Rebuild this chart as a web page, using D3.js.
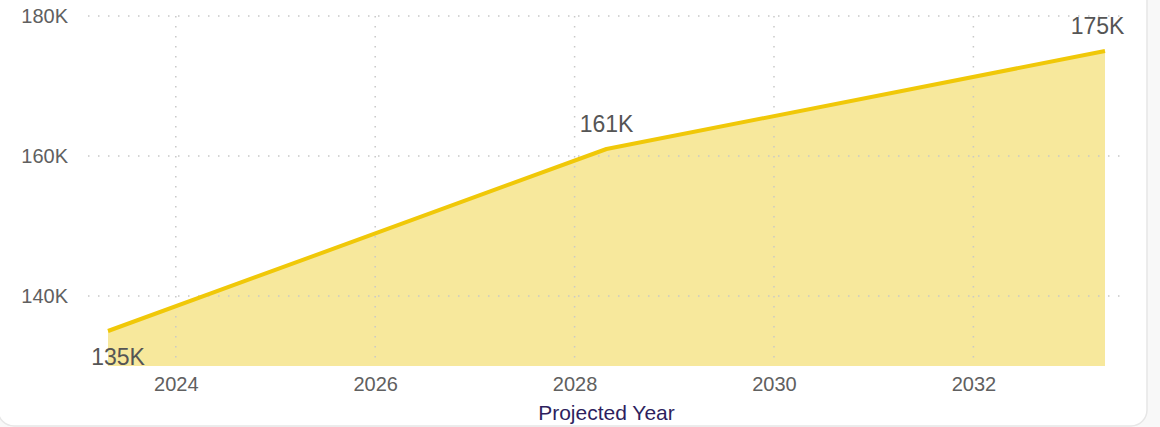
<!DOCTYPE html>
<html>
<head>
<meta charset="utf-8">
<script src="https://cdn.jsdelivr.net/npm/d3@7"></script>
<style>
  html, body { margin: 0; padding: 0; background: #f8f8f8; }
  svg { display: block; font-family: "Liberation Sans", Arial, sans-serif; }
</style>
</head>
<body>
<svg id="chart" width="1160" height="427"></svg>
<script>
// Data
const years = [2023.32, 2028.32, 2033.32];
const population = [135000, 161000, 175000];
const dataLabels = ["135K", "161K", "175K"];
const xTicks = [2024, 2026, 2028, 2030, 2032];
const yTicks = [140000, 160000, 180000];
const yTickLabels = ["140K", "160K", "180K"];
const xAxisTitle = "Projected Year";

const data = years.map((y, i) => ({ year: y, value: population[i], label: dataLabels[i] }));

const svg = d3.select("#chart");
const W = 1160, H = 427;

// card background
svg.append("rect")
  .attr("x", -2).attr("y", -30).attr("width", 1149).attr("height", 456)
  .attr("rx", 16).attr("ry", 16)
  .attr("fill", "#ffffff").attr("stroke", "#e6e6e6").attr("stroke-width", 1.5);

const x = d3.scaleLinear().domain([years[0], years[years.length - 1]]).range([108, 1105]);
const y = d3.scaleLinear().domain([130000, 180000]).range([366, 16]);

const gridLeft = 88, gridRight = 1120;

// horizontal grid
const g = svg.append("g");
g.selectAll(".hgrid").data(yTicks).enter().append("line")
  .attr("x1", gridLeft).attr("x2", gridRight)
  .attr("y1", d => y(d)).attr("y2", d => y(d))
  .attr("stroke", "#c8c8c8").attr("stroke-width", 1.5)
  .attr("stroke-dasharray", "1.5,8.5");

// area & line
const area = d3.area().x(d => x(d.year)).y0(y(130000)).y1(d => y(d.value));
svg.append("path").datum(data).attr("d", area).attr("fill", "#f7e89c");

// vertical grid (drawn over the fill, dotted)
g.raise();
svg.selectAll(".vgrid").data(xTicks).enter().append("line")
  .attr("x1", d => x(d)).attr("x2", d => x(d))
  .attr("y1", y(180000)).attr("y2", y(130000))
  .attr("stroke", "#c8c8c8").attr("stroke-width", 1.5)
  .attr("stroke-dasharray", "1.5,8.5");

const line = d3.line().x(d => x(d.year)).y(d => y(d.value));
svg.append("path").datum(data).attr("d", line)
  .attr("fill", "none").attr("stroke", "#f0c808").attr("stroke-width", 4)
  .attr("stroke-linejoin", "round");

// y axis labels
const yAxis = d3.axisLeft(y).tickValues(yTicks).tickSize(0).tickPadding(0)
  .tickFormat((d, i) => yTickLabels[i]);
const yg = svg.append("g").attr("transform", "translate(68,0)").call(yAxis);
yg.select(".domain").remove();
yg.selectAll("text").attr("font-size", 20).attr("fill", "#606060")
  .attr("font-family", "Liberation Sans, Arial, sans-serif");

// x axis labels
const xAxis = d3.axisBottom(x).tickValues(xTicks).tickSize(0).tickPadding(0)
  .tickFormat(d3.format("d"));
const xg = svg.append("g").attr("transform", "translate(0,377)").call(xAxis);
xg.select(".domain").remove();
xg.selectAll("text").attr("font-size", 20).attr("fill", "#606060")
  .attr("font-family", "Liberation Sans, Arial, sans-serif");

// axis title
svg.append("text")
  .attr("x", (x.range()[0] + x.range()[1]) / 2).attr("y", 420)
  .attr("text-anchor", "middle").attr("font-size", 21).attr("fill", "#2e1f5e")
  .text(xAxisTitle);

// data labels
svg.selectAll(".dl").data(data).enter().append("text")
  .attr("font-size", 23).attr("fill", "#555555").attr("text-anchor", "middle")
  .attr("x", (d, i) => {
    const px = x(d.year) + (i === 0 ? 10 : 0);
    return Math.min(px, 1125 - 27.5);
  })
  .attr("y", (d, i) => i === 0 ? y(d.value) + 34 : y(d.value) - 17)
  .text(d => d.label);
</script>
</body>
</html>
